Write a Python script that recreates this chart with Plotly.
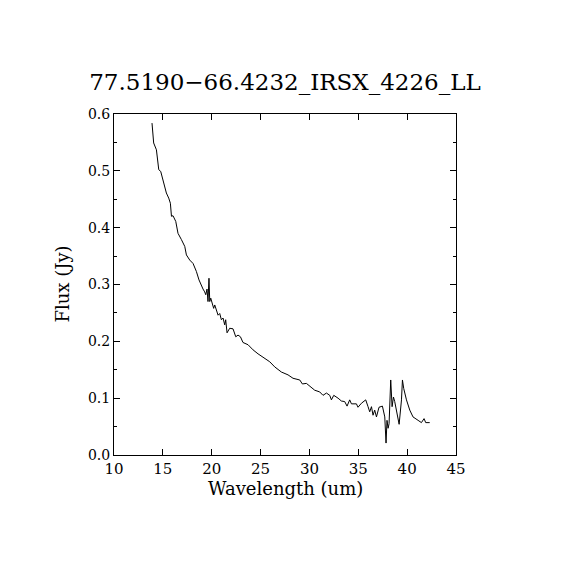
import plotly.graph_objects as go

wavelength = [13.89, 13.95, 14.06, 14.34, 14.44, 14.58, 14.78, 14.95, 15.19, 15.36,
              15.60, 15.77, 15.88, 16.04, 16.32, 16.55, 16.90, 17.24, 17.41, 17.75,
              18.09, 18.43, 18.70, 18.95, 19.11, 19.28, 19.39, 19.52, 19.62, 19.72,
              19.80, 19.90, 20.03, 20.20, 20.31, 20.48, 20.65, 20.82, 20.99, 21.16,
              21.33, 21.43, 21.57, 21.84, 22.18, 22.46, 22.69, 22.94, 23.20, 23.72,
              24.23, 24.74, 25.42, 25.94, 26.45, 27.13, 27.81, 28.32, 29.01, 29.28,
              29.69, 30.03, 30.54, 31.05, 31.39, 31.74, 32.08, 32.25, 32.49, 32.93,
              33.27, 33.61, 33.85, 34.12, 34.30, 34.81, 34.97, 35.32, 35.76, 36.00,
              36.17, 36.35, 36.51, 36.68, 36.86, 37.12, 37.47, 37.71, 37.84, 37.94,
              38.05, 38.15, 38.32, 38.46, 38.60, 38.73, 38.90, 39.18, 39.42, 39.52,
              39.65, 39.93, 40.27, 40.60, 41.12, 41.46, 41.73, 41.90, 42.31]
flux = [0.584, 0.566, 0.549, 0.537, 0.516, 0.502, 0.499, 0.487, 0.470, 0.461,
        0.452, 0.443, 0.420, 0.421, 0.411, 0.390, 0.379, 0.367, 0.352, 0.343,
        0.337, 0.323, 0.308, 0.297, 0.292, 0.287, 0.282, 0.292, 0.270, 0.311,
        0.270, 0.276, 0.267, 0.258, 0.264, 0.255, 0.246, 0.249, 0.238, 0.241,
        0.229, 0.238, 0.215, 0.223, 0.222, 0.208, 0.211, 0.208, 0.198, 0.194,
        0.185, 0.178, 0.170, 0.164, 0.155, 0.146, 0.141, 0.135, 0.132, 0.125,
        0.126, 0.121, 0.114, 0.111, 0.105, 0.109, 0.105, 0.097, 0.105, 0.100,
        0.095, 0.094, 0.086, 0.097, 0.090, 0.090, 0.084, 0.091, 0.097, 0.085,
        0.076, 0.085, 0.070, 0.079, 0.067, 0.084, 0.086, 0.067, 0.021, 0.061,
        0.047, 0.055, 0.132, 0.085, 0.102, 0.094, 0.079, 0.054, 0.097, 0.132,
        0.117, 0.097, 0.079, 0.067, 0.061, 0.057, 0.064, 0.057, 0.057]

title_text = "77.5190\u221266.4232_IRSX_4226_LL"
x_label = "Wavelength (um)"
y_label = "Flux (Jy)"

FONT = "DejaVu Serif"
OFF = 8  # page body margin

fig = go.Figure()
fig.add_trace(go.Scatter(x=wavelength, y=flux, mode="lines",
                         line=dict(color="black", width=1), showlegend=False))

fig.update_layout(
    width=570, height=570,
    paper_bgcolor="white", plot_bgcolor="white",
    margin=dict(l=114 - OFF, r=570 - (456 - OFF), t=114 - OFF, b=570 - (455 - OFF)),
    font=dict(family=FONT, color="black", size=14),
    title=dict(text=title_text, x=0.5, xanchor="center", xref="paper",
               y=1 - (82 - OFF) / 570, yref="container", yanchor="middle",
               font=dict(family=FONT, size=23, color="black")),
    annotations=[
        dict(text=x_label, x=0.5, y=-(489 - 455) / 341, xref="paper", yref="paper",
             xanchor="center", yanchor="middle", showarrow=False,
             font=dict(family=FONT, size=18, color="black")),
        dict(text=y_label, x=-(114 - 62) / 342, y=0.5, xref="paper", yref="paper",
             xanchor="center", yanchor="middle", textangle=-90, showarrow=False,
             font=dict(family=FONT, size=18, color="black")),
    ],
)

fig.update_xaxes(range=[10, 45], dtick=5, tick0=10, ticks="inside", ticklen=6,
                 tickwidth=1, tickcolor="black", showline=True, linecolor="black",
                 linewidth=1, mirror="ticks", showgrid=False, zeroline=False,
                 tickfont=dict(family=FONT, size=15, color="black"))
fig.update_yaxes(range=[0, 0.6], dtick=0.1, tick0=0, tickformat=".1f", ticks="inside",
                 ticklen=6, tickwidth=1, tickcolor="black", showline=True,
                 linecolor="black", linewidth=1, mirror="ticks", showgrid=False,
                 zeroline=False, tickfont=dict(family=FONT, size=14, color="black"),
                 minor=dict(dtick=0.05, ticks="inside", ticklen=3, tickcolor="black",
                            showgrid=False))

fig.write_html("out.html")
